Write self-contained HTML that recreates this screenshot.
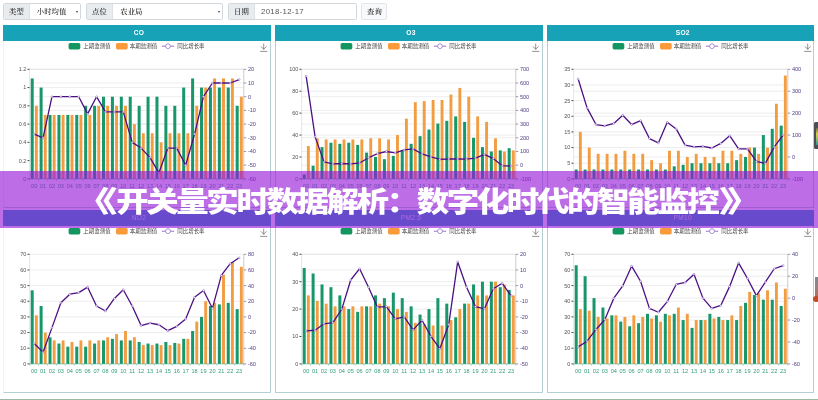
<!DOCTYPE html>
<html lang="zh-CN">
<head>
<meta charset="utf-8">
<title>开关量实时数据解析：数字化时代的智能监控</title>
<style>
html,body{margin:0;padding:0;}
body{width:818px;height:400px;position:relative;overflow:hidden;background:#fff;font-family:"Liberation Sans","Noto Sans CJK SC",sans-serif;}
.toolbar{position:absolute;left:0;top:0;width:818px;height:24px;}
.grp{position:absolute;top:3.2px;height:17.3px;box-sizing:border-box;border:0.6px solid #d3d8dd;border-radius:1.8px;background:#fff;overflow:hidden;}
.grp .lab{position:absolute;left:0;top:0;bottom:0;background:#e9ecef;border-right:0.5px solid #dde1e5;}
.t{position:absolute;font-family:"Liberation Serif","Noto Serif CJK SC",serif;font-size:7.4px;line-height:16.4px;color:#222;font-weight:500;top:0;white-space:nowrap;}
.t.num{font-family:"Liberation Sans","Noto Sans CJK SC",sans-serif;font-size:7.8px;color:#555;letter-spacing:0.3px;}
.arrow{position:absolute;top:7px;width:0;height:0;border-left:1.3px solid transparent;border-right:1.3px solid transparent;border-top:2px solid #333;}
.btn{position:absolute;left:360.5px;top:3.2px;width:26.8px;height:17.3px;box-sizing:border-box;border:0.6px solid #e2e6ea;border-radius:1.8px;background:#f8f9fa;}
.panel{position:absolute;width:267.4px;height:182.6px;box-sizing:border-box;background:#fff;}
.panel .bd{position:absolute;left:0;top:0;right:0;bottom:0;border:0.6px solid #b4cfd1;box-sizing:border-box;}
.panel.r1 .hd{font-weight:normal;color:rgba(255,255,255,0.8);}
.panel.c0 .bd{border-left-color:#eef5f6;}
.panel .hd{position:absolute;left:0;top:0;width:100%;height:15.4px;background:#17a2b8;color:#fff;text-align:center;font-size:6.6px;line-height:15.6px;font-weight:bold;letter-spacing:0.3px;box-sizing:border-box;padding-left:4px;}
.panel svg{position:absolute;left:0;top:0;}
svg text{font-family:"Liberation Sans","Noto Sans CJK SC",sans-serif;}
.lg{font-size:5.5px;fill:#444;}
.ll{font-size:5.5px;fill:#555;text-anchor:end;}
.rl{font-size:5.6px;fill:#58408a;text-anchor:start;}
.xl{font-size:5.6px;fill:#2f9e7d;text-anchor:middle;}
.gl{stroke:#dedede;stroke-width:0.55;}
.tk{stroke:#222;stroke-width:0.85;}
.tkr{stroke:#6a6480;stroke-width:0.7;}
.axr{stroke:#b4b4b8;stroke-width:0.7;}
.axl{stroke:#d4d4d4;stroke-width:0.6;}
.tkx{stroke:#2f9e7d;stroke-width:0.4;}
.ax{stroke:#2f9e7d;stroke-width:0.5;}
.banner{position:absolute;left:0;top:171px;width:818px;height:57px;background:rgba(151,24,215,0.63);}
.banner .tt{position:absolute;left:0;top:2.0px;width:818px;height:57px;line-height:57px;color:#fff;font-family:"Liberation Sans","Noto Sans CJK SC",sans-serif;font-weight:900;font-size:30px;white-space:nowrap;}
.banner .q{position:absolute;transform-origin:0 50%;transform:scale(1.52,0.97);top:0.3px;}
.banner .m{position:absolute;font-size:32.5px;letter-spacing:-2.45px;transform-origin:0 50%;transform:scaleY(0.875);top:1.3px;}
.foot{position:absolute;left:0;top:398.7px;width:818px;height:2px;background:#9db8a6;}
.w1{position:absolute;left:814px;top:121.5px;width:6px;height:27.2px;background:#4a4f57;border-radius:1.5px 0 0 1.5px;overflow:hidden;}
.w1 i{position:absolute;left:1.6px;top:6px;width:5px;height:17px;background:linear-gradient(#6a6a48,#d6cf45 35%,#9fbf60 60%,#3a9a8c 95%);}
.w2{position:absolute;left:815px;top:277px;width:3px;height:21px;background:linear-gradient(#7f8890,#9a8080 50%,#b56a55);}
.w2 i{position:absolute;left:-2px;top:19.4px;width:6px;height:6px;border-radius:50%;background:#c24a25;}
</style>
</head>
<body>
<div class="toolbar">
  <div class="grp" style="left:3.2px;width:77.8px;"><div class="lab" style="width:25.2px;"></div><span class="t" style="left:4.8px;">类型</span><span class="t" style="left:32.6px;">小时均值</span><span class="arrow" style="left:71.6px;"></span></div>
  <div class="grp" style="left:85.5px;width:137.8px;"><div class="lab" style="width:25.8px;"></div><span class="t" style="left:5.6px;">点位</span><span class="t" style="left:33.8px;">农业局</span><span class="arrow" style="left:131.9px;"></span></div>
  <div class="grp" style="left:227.5px;width:129px;"><div class="lab" style="width:25.8px;"></div><span class="t" style="left:5.6px;">日期</span><span class="t num" style="left:32.6px;">2018-12-17</span></div>
  <div class="btn"><span class="t" style="left:5.6px;top:-0.6px;">查询</span></div>
</div>

<div class="panel c0 r0" style="left:3.2px;top:25.2px;">
<div class="bd"></div>
<svg class="chart" width="267.4" height="182.6" viewBox="0 0 267.4 182.6">
<g class="legend">
<rect x="65.6" y="18" width="11.7" height="6.4" rx="1.6" fill="#13965f"/>
<text x="80.3" y="23.1" class="lg">上期监测值</text>
<rect x="113" y="18" width="11.7" height="6.4" rx="1.6" fill="#fb9a38"/>
<text x="126.8" y="23.1" class="lg">本期监测值</text>
<line x1="158.8" y1="21.2" x2="171.3" y2="21.2" stroke="#6a3aa6" stroke-width="0.7"/>
<circle cx="165" cy="21.2" r="2.4" fill="#fff" stroke="#7a4db5" stroke-width="0.6"/>
<text x="174.2" y="23.1" class="lg">同比增长率</text>
</g>
<g stroke="#666" stroke-width="0.7" fill="none" stroke-linecap="round" stroke-linejoin="round"><path d="M260.7 19 v5.2 M258.1 21.6 l2.6 2.6 l2.6 -2.6 M257.5 26.4 h6.4"/></g>
<line x1="24.5" y1="153.9" x2="26.7" y2="153.9" class="tk"/>
<text x="23.3" y="155.8" class="ll">0</text>
<line x1="26.7" y1="135.63" x2="240.6" y2="135.63" class="gl"/>
<line x1="24.5" y1="135.63" x2="26.7" y2="135.63" class="tk"/>
<text x="23.3" y="137.53" class="ll">0.2</text>
<line x1="26.7" y1="117.37" x2="240.6" y2="117.37" class="gl"/>
<line x1="24.5" y1="117.37" x2="26.7" y2="117.37" class="tk"/>
<text x="23.3" y="119.27" class="ll">0.4</text>
<line x1="26.7" y1="99.1" x2="240.6" y2="99.1" class="gl"/>
<line x1="24.5" y1="99.1" x2="26.7" y2="99.1" class="tk"/>
<text x="23.3" y="101" class="ll">0.6</text>
<line x1="26.7" y1="80.83" x2="240.6" y2="80.83" class="gl"/>
<line x1="24.5" y1="80.83" x2="26.7" y2="80.83" class="tk"/>
<text x="23.3" y="82.73" class="ll">0.8</text>
<line x1="26.7" y1="62.57" x2="240.6" y2="62.57" class="gl"/>
<line x1="24.5" y1="62.57" x2="26.7" y2="62.57" class="tk"/>
<text x="23.3" y="64.47" class="ll">1</text>
<line x1="26.7" y1="44.3" x2="240.6" y2="44.3" class="gl"/>
<line x1="24.5" y1="44.3" x2="26.7" y2="44.3" class="tk"/>
<text x="23.3" y="46.2" class="ll">1.2</text>
<line x1="240.8" y1="153.9" x2="243.2" y2="153.9" class="tkr"/>
<text x="244.9" y="155.8" class="rl">-60</text>
<line x1="26.7" y1="140.2" x2="240.6" y2="140.2" class="gl"/>
<line x1="240.8" y1="140.2" x2="243.2" y2="140.2" class="tkr"/>
<text x="244.9" y="142.1" class="rl">-50</text>
<line x1="26.7" y1="126.5" x2="240.6" y2="126.5" class="gl"/>
<line x1="240.8" y1="126.5" x2="243.2" y2="126.5" class="tkr"/>
<text x="244.9" y="128.4" class="rl">-40</text>
<line x1="26.7" y1="112.8" x2="240.6" y2="112.8" class="gl"/>
<line x1="240.8" y1="112.8" x2="243.2" y2="112.8" class="tkr"/>
<text x="244.9" y="114.7" class="rl">-30</text>
<line x1="26.7" y1="99.1" x2="240.6" y2="99.1" class="gl"/>
<line x1="240.8" y1="99.1" x2="243.2" y2="99.1" class="tkr"/>
<text x="244.9" y="101" class="rl">-20</text>
<line x1="26.7" y1="85.4" x2="240.6" y2="85.4" class="gl"/>
<line x1="240.8" y1="85.4" x2="243.2" y2="85.4" class="tkr"/>
<text x="244.9" y="87.3" class="rl">-10</text>
<line x1="26.7" y1="71.7" x2="240.6" y2="71.7" class="gl"/>
<line x1="240.8" y1="71.7" x2="243.2" y2="71.7" class="tkr"/>
<text x="244.9" y="73.6" class="rl">0</text>
<line x1="26.7" y1="58" x2="240.6" y2="58" class="gl"/>
<line x1="240.8" y1="58" x2="243.2" y2="58" class="tkr"/>
<text x="244.9" y="59.9" class="rl">10</text>
<line x1="26.7" y1="44.3" x2="240.6" y2="44.3" class="gl"/>
<line x1="240.8" y1="44.3" x2="243.2" y2="44.3" class="tkr"/>
<text x="244.9" y="46.2" class="rl">20</text>
<line x1="240.8" y1="44.3" x2="240.8" y2="153.9" class="axr"/>
<line x1="26.6" y1="44.3" x2="26.6" y2="153.9" class="axl"/>
<g fill="#17976a"><rect x="27.7" y="53.43" width="3" height="100.47"/><rect x="36.61" y="62.57" width="3" height="91.33"/><rect x="45.52" y="89.97" width="3" height="63.93"/><rect x="54.44" y="89.97" width="3" height="63.93"/><rect x="63.35" y="89.97" width="3" height="63.93"/><rect x="72.26" y="89.97" width="3" height="63.93"/><rect x="81.17" y="80.83" width="3" height="73.07"/><rect x="90.09" y="80.83" width="3" height="73.07"/><rect x="99" y="71.7" width="3" height="82.2"/><rect x="107.91" y="71.7" width="3" height="82.2"/><rect x="116.83" y="71.7" width="3" height="82.2"/><rect x="125.74" y="71.7" width="3" height="82.2"/><rect x="134.65" y="80.83" width="3" height="73.07"/><rect x="143.56" y="71.7" width="3" height="82.2"/><rect x="152.47" y="71.7" width="3" height="82.2"/><rect x="161.39" y="80.83" width="3" height="73.07"/><rect x="170.3" y="80.83" width="3" height="73.07"/><rect x="179.21" y="62.57" width="3" height="91.33"/><rect x="188.12" y="53.43" width="3" height="100.47"/><rect x="197.04" y="62.57" width="3" height="91.33"/><rect x="205.95" y="62.57" width="3" height="91.33"/><rect x="214.86" y="62.57" width="3" height="91.33"/><rect x="223.77" y="62.57" width="3" height="91.33"/><rect x="232.69" y="80.83" width="3" height="73.07"/></g>
<g fill="#f29d42"><rect x="31.9" y="80.83" width="2.9" height="73.07"/><rect x="40.81" y="89.97" width="2.9" height="63.93"/><rect x="49.73" y="89.97" width="2.9" height="63.93"/><rect x="58.64" y="89.97" width="2.9" height="63.93"/><rect x="67.55" y="89.97" width="2.9" height="63.93"/><rect x="76.46" y="89.97" width="2.9" height="63.93"/><rect x="85.38" y="89.97" width="2.9" height="63.93"/><rect x="94.29" y="80.83" width="2.9" height="73.07"/><rect x="103.2" y="80.83" width="2.9" height="73.07"/><rect x="112.11" y="80.83" width="2.9" height="73.07"/><rect x="121.03" y="80.83" width="2.9" height="73.07"/><rect x="129.94" y="99.1" width="2.9" height="54.8"/><rect x="138.85" y="108.23" width="2.9" height="45.67"/><rect x="147.76" y="108.23" width="2.9" height="45.67"/><rect x="156.67" y="117.37" width="2.9" height="36.53"/><rect x="165.59" y="108.23" width="2.9" height="45.67"/><rect x="174.5" y="108.23" width="2.9" height="45.67"/><rect x="183.41" y="108.23" width="2.9" height="45.67"/><rect x="192.32" y="80.83" width="2.9" height="73.07"/><rect x="201.24" y="62.57" width="2.9" height="91.33"/><rect x="210.15" y="53.43" width="2.9" height="100.47"/><rect x="219.06" y="53.43" width="2.9" height="100.47"/><rect x="227.97" y="53.43" width="2.9" height="100.47"/><rect x="236.89" y="71.7" width="2.9" height="82.2"/></g>
<line x1="26.7" y1="153.9" x2="240.6" y2="153.9" class="ax"/>
<line x1="26.7" y1="153.9" x2="26.7" y2="155.7" class="tkx"/>
<line x1="35.61" y1="153.9" x2="35.61" y2="155.7" class="tkx"/>
<line x1="44.52" y1="153.9" x2="44.52" y2="155.7" class="tkx"/>
<line x1="53.44" y1="153.9" x2="53.44" y2="155.7" class="tkx"/>
<line x1="62.35" y1="153.9" x2="62.35" y2="155.7" class="tkx"/>
<line x1="71.26" y1="153.9" x2="71.26" y2="155.7" class="tkx"/>
<line x1="80.17" y1="153.9" x2="80.17" y2="155.7" class="tkx"/>
<line x1="89.09" y1="153.9" x2="89.09" y2="155.7" class="tkx"/>
<line x1="98" y1="153.9" x2="98" y2="155.7" class="tkx"/>
<line x1="106.91" y1="153.9" x2="106.91" y2="155.7" class="tkx"/>
<line x1="115.83" y1="153.9" x2="115.83" y2="155.7" class="tkx"/>
<line x1="124.74" y1="153.9" x2="124.74" y2="155.7" class="tkx"/>
<line x1="133.65" y1="153.9" x2="133.65" y2="155.7" class="tkx"/>
<line x1="142.56" y1="153.9" x2="142.56" y2="155.7" class="tkx"/>
<line x1="151.47" y1="153.9" x2="151.47" y2="155.7" class="tkx"/>
<line x1="160.39" y1="153.9" x2="160.39" y2="155.7" class="tkx"/>
<line x1="169.3" y1="153.9" x2="169.3" y2="155.7" class="tkx"/>
<line x1="178.21" y1="153.9" x2="178.21" y2="155.7" class="tkx"/>
<line x1="187.12" y1="153.9" x2="187.12" y2="155.7" class="tkx"/>
<line x1="196.04" y1="153.9" x2="196.04" y2="155.7" class="tkx"/>
<line x1="204.95" y1="153.9" x2="204.95" y2="155.7" class="tkx"/>
<line x1="213.86" y1="153.9" x2="213.86" y2="155.7" class="tkx"/>
<line x1="222.77" y1="153.9" x2="222.77" y2="155.7" class="tkx"/>
<line x1="231.69" y1="153.9" x2="231.69" y2="155.7" class="tkx"/>
<line x1="240.6" y1="153.9" x2="240.6" y2="155.7" class="tkx"/>
<text x="31.16" y="162.6" class="xl">00</text>
<text x="40.07" y="162.6" class="xl">01</text>
<text x="48.98" y="162.6" class="xl">02</text>
<text x="57.89" y="162.6" class="xl">03</text>
<text x="66.81" y="162.6" class="xl">04</text>
<text x="75.72" y="162.6" class="xl">05</text>
<text x="84.63" y="162.6" class="xl">06</text>
<text x="93.54" y="162.6" class="xl">07</text>
<text x="102.46" y="162.6" class="xl">08</text>
<text x="111.37" y="162.6" class="xl">09</text>
<text x="120.28" y="162.6" class="xl">10</text>
<text x="129.19" y="162.6" class="xl">11</text>
<text x="138.11" y="162.6" class="xl">12</text>
<text x="147.02" y="162.6" class="xl">13</text>
<text x="155.93" y="162.6" class="xl">14</text>
<text x="164.84" y="162.6" class="xl">15</text>
<text x="173.76" y="162.6" class="xl">16</text>
<text x="182.67" y="162.6" class="xl">17</text>
<text x="191.58" y="162.6" class="xl">18</text>
<text x="200.49" y="162.6" class="xl">19</text>
<text x="209.41" y="162.6" class="xl">20</text>
<text x="218.32" y="162.6" class="xl">21</text>
<text x="227.23" y="162.6" class="xl">22</text>
<text x="236.14" y="162.6" class="xl">23</text>
<polyline fill="none" stroke="#4b1082" stroke-width="1.3" stroke-linejoin="round" points="31.16,109.06 40.07,112.8 48.98,71.7 57.89,71.7 66.81,71.7 75.72,71.7 84.63,88.83 93.54,71.7 102.46,86.92 111.37,86.92 120.28,86.92 129.19,117.37 138.11,123.08 147.02,132.59 155.93,147.81 164.84,123.08 173.76,123.08 182.67,140.2 191.58,109.06 200.49,71.7 209.41,58 218.32,58 227.23,58 236.14,54.58"/>
<g fill="#fff" stroke="#8a5fc0" stroke-width="0.5"><circle cx="31.16" cy="109.06" r="0.95"/><circle cx="40.07" cy="112.8" r="0.95"/><circle cx="48.98" cy="71.7" r="0.95"/><circle cx="57.89" cy="71.7" r="0.95"/><circle cx="66.81" cy="71.7" r="0.95"/><circle cx="75.72" cy="71.7" r="0.95"/><circle cx="84.63" cy="88.83" r="0.95"/><circle cx="93.54" cy="71.7" r="0.95"/><circle cx="102.46" cy="86.92" r="0.95"/><circle cx="111.37" cy="86.92" r="0.95"/><circle cx="120.28" cy="86.92" r="0.95"/><circle cx="129.19" cy="117.37" r="0.95"/><circle cx="138.11" cy="123.08" r="0.95"/><circle cx="147.02" cy="132.59" r="0.95"/><circle cx="155.93" cy="147.81" r="0.95"/><circle cx="164.84" cy="123.08" r="0.95"/><circle cx="173.76" cy="123.08" r="0.95"/><circle cx="182.67" cy="140.2" r="0.95"/><circle cx="191.58" cy="109.06" r="0.95"/><circle cx="200.49" cy="71.7" r="0.95"/><circle cx="209.41" cy="58" r="0.95"/><circle cx="218.32" cy="58" r="0.95"/><circle cx="227.23" cy="58" r="0.95"/><circle cx="236.14" cy="54.58" r="0.95"/></g>
</svg>
<div class="hd">CO</div>
</div>
<div class="panel c1 r0" style="left:275.3px;top:25.2px;">
<div class="bd"></div>
<svg class="chart" width="267.4" height="182.6" viewBox="0 0 267.4 182.6">
<g class="legend">
<rect x="65.6" y="18" width="11.7" height="6.4" rx="1.6" fill="#13965f"/>
<text x="80.3" y="23.1" class="lg">上期监测值</text>
<rect x="113" y="18" width="11.7" height="6.4" rx="1.6" fill="#fb9a38"/>
<text x="126.8" y="23.1" class="lg">本期监测值</text>
<line x1="158.8" y1="21.2" x2="171.3" y2="21.2" stroke="#6a3aa6" stroke-width="0.7"/>
<circle cx="165" cy="21.2" r="2.4" fill="#fff" stroke="#7a4db5" stroke-width="0.6"/>
<text x="174.2" y="23.1" class="lg">同比增长率</text>
</g>
<g stroke="#666" stroke-width="0.7" fill="none" stroke-linecap="round" stroke-linejoin="round"><path d="M260.7 19 v5.2 M258.1 21.6 l2.6 2.6 l2.6 -2.6 M257.5 26.4 h6.4"/></g>
<line x1="24.5" y1="153.9" x2="26.7" y2="153.9" class="tk"/>
<text x="23.3" y="155.8" class="ll">0</text>
<line x1="26.7" y1="131.98" x2="240.6" y2="131.98" class="gl"/>
<line x1="24.5" y1="131.98" x2="26.7" y2="131.98" class="tk"/>
<text x="23.3" y="133.88" class="ll">20</text>
<line x1="26.7" y1="110.06" x2="240.6" y2="110.06" class="gl"/>
<line x1="24.5" y1="110.06" x2="26.7" y2="110.06" class="tk"/>
<text x="23.3" y="111.96" class="ll">40</text>
<line x1="26.7" y1="88.14" x2="240.6" y2="88.14" class="gl"/>
<line x1="24.5" y1="88.14" x2="26.7" y2="88.14" class="tk"/>
<text x="23.3" y="90.04" class="ll">60</text>
<line x1="26.7" y1="66.22" x2="240.6" y2="66.22" class="gl"/>
<line x1="24.5" y1="66.22" x2="26.7" y2="66.22" class="tk"/>
<text x="23.3" y="68.12" class="ll">80</text>
<line x1="26.7" y1="44.3" x2="240.6" y2="44.3" class="gl"/>
<line x1="24.5" y1="44.3" x2="26.7" y2="44.3" class="tk"/>
<text x="23.3" y="46.2" class="ll">100</text>
<line x1="240.8" y1="153.9" x2="243.2" y2="153.9" class="tkr"/>
<text x="244.9" y="155.8" class="rl">-100</text>
<line x1="26.7" y1="140.2" x2="240.6" y2="140.2" class="gl"/>
<line x1="240.8" y1="140.2" x2="243.2" y2="140.2" class="tkr"/>
<text x="244.9" y="142.1" class="rl">0</text>
<line x1="26.7" y1="126.5" x2="240.6" y2="126.5" class="gl"/>
<line x1="240.8" y1="126.5" x2="243.2" y2="126.5" class="tkr"/>
<text x="244.9" y="128.4" class="rl">100</text>
<line x1="26.7" y1="112.8" x2="240.6" y2="112.8" class="gl"/>
<line x1="240.8" y1="112.8" x2="243.2" y2="112.8" class="tkr"/>
<text x="244.9" y="114.7" class="rl">200</text>
<line x1="26.7" y1="99.1" x2="240.6" y2="99.1" class="gl"/>
<line x1="240.8" y1="99.1" x2="243.2" y2="99.1" class="tkr"/>
<text x="244.9" y="101" class="rl">300</text>
<line x1="26.7" y1="85.4" x2="240.6" y2="85.4" class="gl"/>
<line x1="240.8" y1="85.4" x2="243.2" y2="85.4" class="tkr"/>
<text x="244.9" y="87.3" class="rl">400</text>
<line x1="26.7" y1="71.7" x2="240.6" y2="71.7" class="gl"/>
<line x1="240.8" y1="71.7" x2="243.2" y2="71.7" class="tkr"/>
<text x="244.9" y="73.6" class="rl">500</text>
<line x1="26.7" y1="58" x2="240.6" y2="58" class="gl"/>
<line x1="240.8" y1="58" x2="243.2" y2="58" class="tkr"/>
<text x="244.9" y="59.9" class="rl">600</text>
<line x1="26.7" y1="44.3" x2="240.6" y2="44.3" class="gl"/>
<line x1="240.8" y1="44.3" x2="243.2" y2="44.3" class="tkr"/>
<text x="244.9" y="46.2" class="rl">700</text>
<line x1="240.8" y1="44.3" x2="240.8" y2="153.9" class="axr"/>
<line x1="26.6" y1="44.3" x2="26.6" y2="153.9" class="axl"/>
<g fill="#17976a"><rect x="27.7" y="149.52" width="3" height="4.38"/><rect x="36.61" y="140.75" width="3" height="13.15"/><rect x="45.52" y="122.12" width="3" height="31.78"/><rect x="54.44" y="117.73" width="3" height="36.17"/><rect x="63.35" y="118.83" width="3" height="35.07"/><rect x="72.26" y="117.73" width="3" height="36.17"/><rect x="81.17" y="119.92" width="3" height="33.98"/><rect x="90.09" y="127.6" width="3" height="26.3"/><rect x="99" y="131.98" width="3" height="21.92"/><rect x="107.91" y="134.17" width="3" height="19.73"/><rect x="116.83" y="130.88" width="3" height="23.02"/><rect x="125.74" y="125.4" width="3" height="28.5"/><rect x="134.65" y="118.83" width="3" height="35.07"/><rect x="143.56" y="111.16" width="3" height="42.74"/><rect x="152.47" y="104.58" width="3" height="49.32"/><rect x="161.39" y="98.55" width="3" height="55.35"/><rect x="170.3" y="95.81" width="3" height="58.09"/><rect x="179.21" y="91.43" width="3" height="62.47"/><rect x="188.12" y="96.91" width="3" height="56.99"/><rect x="197.04" y="112.8" width="3" height="41.1"/><rect x="205.95" y="122.12" width="3" height="31.78"/><rect x="214.86" y="126.5" width="3" height="27.4"/><rect x="223.77" y="125.4" width="3" height="28.5"/><rect x="232.69" y="123.21" width="3" height="30.69"/></g>
<g fill="#f29d42"><rect x="31.9" y="121.02" width="2.9" height="32.88"/><rect x="40.81" y="113.35" width="2.9" height="40.55"/><rect x="49.73" y="114.44" width="2.9" height="39.46"/><rect x="58.64" y="114.44" width="2.9" height="39.46"/><rect x="67.55" y="114.44" width="2.9" height="39.46"/><rect x="76.46" y="114.44" width="2.9" height="39.46"/><rect x="85.38" y="114.44" width="2.9" height="39.46"/><rect x="94.29" y="113.35" width="2.9" height="40.55"/><rect x="103.2" y="113.35" width="2.9" height="40.55"/><rect x="112.11" y="114.44" width="2.9" height="39.46"/><rect x="121.03" y="110.06" width="2.9" height="43.84"/><rect x="129.94" y="93.62" width="2.9" height="60.28"/><rect x="138.85" y="77.18" width="2.9" height="76.72"/><rect x="147.76" y="76.08" width="2.9" height="77.82"/><rect x="156.67" y="74.99" width="2.9" height="78.91"/><rect x="165.59" y="74.99" width="2.9" height="78.91"/><rect x="174.5" y="69.51" width="2.9" height="84.39"/><rect x="183.41" y="62.93" width="2.9" height="90.97"/><rect x="192.32" y="71.7" width="2.9" height="82.2"/><rect x="201.24" y="91.43" width="2.9" height="62.47"/><rect x="210.15" y="96.91" width="2.9" height="56.99"/><rect x="219.06" y="113.35" width="2.9" height="40.55"/><rect x="227.97" y="126.5" width="2.9" height="27.4"/><rect x="236.89" y="125.4" width="2.9" height="28.5"/></g>
<line x1="26.7" y1="153.9" x2="240.6" y2="153.9" class="ax"/>
<line x1="26.7" y1="153.9" x2="26.7" y2="155.7" class="tkx"/>
<line x1="35.61" y1="153.9" x2="35.61" y2="155.7" class="tkx"/>
<line x1="44.52" y1="153.9" x2="44.52" y2="155.7" class="tkx"/>
<line x1="53.44" y1="153.9" x2="53.44" y2="155.7" class="tkx"/>
<line x1="62.35" y1="153.9" x2="62.35" y2="155.7" class="tkx"/>
<line x1="71.26" y1="153.9" x2="71.26" y2="155.7" class="tkx"/>
<line x1="80.17" y1="153.9" x2="80.17" y2="155.7" class="tkx"/>
<line x1="89.09" y1="153.9" x2="89.09" y2="155.7" class="tkx"/>
<line x1="98" y1="153.9" x2="98" y2="155.7" class="tkx"/>
<line x1="106.91" y1="153.9" x2="106.91" y2="155.7" class="tkx"/>
<line x1="115.83" y1="153.9" x2="115.83" y2="155.7" class="tkx"/>
<line x1="124.74" y1="153.9" x2="124.74" y2="155.7" class="tkx"/>
<line x1="133.65" y1="153.9" x2="133.65" y2="155.7" class="tkx"/>
<line x1="142.56" y1="153.9" x2="142.56" y2="155.7" class="tkx"/>
<line x1="151.47" y1="153.9" x2="151.47" y2="155.7" class="tkx"/>
<line x1="160.39" y1="153.9" x2="160.39" y2="155.7" class="tkx"/>
<line x1="169.3" y1="153.9" x2="169.3" y2="155.7" class="tkx"/>
<line x1="178.21" y1="153.9" x2="178.21" y2="155.7" class="tkx"/>
<line x1="187.12" y1="153.9" x2="187.12" y2="155.7" class="tkx"/>
<line x1="196.04" y1="153.9" x2="196.04" y2="155.7" class="tkx"/>
<line x1="204.95" y1="153.9" x2="204.95" y2="155.7" class="tkx"/>
<line x1="213.86" y1="153.9" x2="213.86" y2="155.7" class="tkx"/>
<line x1="222.77" y1="153.9" x2="222.77" y2="155.7" class="tkx"/>
<line x1="231.69" y1="153.9" x2="231.69" y2="155.7" class="tkx"/>
<line x1="240.6" y1="153.9" x2="240.6" y2="155.7" class="tkx"/>
<text x="31.16" y="162.6" class="xl">00</text>
<text x="40.07" y="162.6" class="xl">01</text>
<text x="48.98" y="162.6" class="xl">02</text>
<text x="57.89" y="162.6" class="xl">03</text>
<text x="66.81" y="162.6" class="xl">04</text>
<text x="75.72" y="162.6" class="xl">05</text>
<text x="84.63" y="162.6" class="xl">06</text>
<text x="93.54" y="162.6" class="xl">07</text>
<text x="102.46" y="162.6" class="xl">08</text>
<text x="111.37" y="162.6" class="xl">09</text>
<text x="120.28" y="162.6" class="xl">10</text>
<text x="129.19" y="162.6" class="xl">11</text>
<text x="138.11" y="162.6" class="xl">12</text>
<text x="147.02" y="162.6" class="xl">13</text>
<text x="155.93" y="162.6" class="xl">14</text>
<text x="164.84" y="162.6" class="xl">15</text>
<text x="173.76" y="162.6" class="xl">16</text>
<text x="182.67" y="162.6" class="xl">17</text>
<text x="191.58" y="162.6" class="xl">18</text>
<text x="200.49" y="162.6" class="xl">19</text>
<text x="209.41" y="162.6" class="xl">20</text>
<text x="218.32" y="162.6" class="xl">21</text>
<text x="227.23" y="162.6" class="xl">22</text>
<text x="236.14" y="162.6" class="xl">23</text>
<polyline fill="none" stroke="#4b1082" stroke-width="1.3" stroke-linejoin="round" points="31.16,51.15 40.07,111.66 48.98,136.89 57.89,138.95 66.81,138.49 75.72,138.95 84.63,137.99 93.54,132.78 102.46,128.56 111.37,126.5 120.28,127.8 129.19,124.92 138.11,123.93 147.02,128.96 155.93,131.98 164.84,134.37 173.76,134 182.67,133.95 191.58,134.14 200.49,133.08 209.41,129.33 218.32,133.62 227.23,140.73 236.14,141.18"/>
<g fill="#fff" stroke="#8a5fc0" stroke-width="0.5"><circle cx="31.16" cy="51.15" r="0.95"/><circle cx="40.07" cy="111.66" r="0.95"/><circle cx="48.98" cy="136.89" r="0.95"/><circle cx="57.89" cy="138.95" r="0.95"/><circle cx="66.81" cy="138.49" r="0.95"/><circle cx="75.72" cy="138.95" r="0.95"/><circle cx="84.63" cy="137.99" r="0.95"/><circle cx="93.54" cy="132.78" r="0.95"/><circle cx="102.46" cy="128.56" r="0.95"/><circle cx="111.37" cy="126.5" r="0.95"/><circle cx="120.28" cy="127.8" r="0.95"/><circle cx="129.19" cy="124.92" r="0.95"/><circle cx="138.11" cy="123.93" r="0.95"/><circle cx="147.02" cy="128.96" r="0.95"/><circle cx="155.93" cy="131.98" r="0.95"/><circle cx="164.84" cy="134.37" r="0.95"/><circle cx="173.76" cy="134" r="0.95"/><circle cx="182.67" cy="133.95" r="0.95"/><circle cx="191.58" cy="134.14" r="0.95"/><circle cx="200.49" cy="133.08" r="0.95"/><circle cx="209.41" cy="129.33" r="0.95"/><circle cx="218.32" cy="133.62" r="0.95"/><circle cx="227.23" cy="140.73" r="0.95"/><circle cx="236.14" cy="141.18" r="0.95"/></g>
</svg>
<div class="hd">O3</div>
</div>
<div class="panel c2 r0" style="left:547.1px;top:25.2px;">
<div class="bd"></div>
<svg class="chart" width="267.4" height="182.6" viewBox="0 0 267.4 182.6">
<g class="legend">
<rect x="65.6" y="18" width="11.7" height="6.4" rx="1.6" fill="#13965f"/>
<text x="80.3" y="23.1" class="lg">上期监测值</text>
<rect x="113" y="18" width="11.7" height="6.4" rx="1.6" fill="#fb9a38"/>
<text x="126.8" y="23.1" class="lg">本期监测值</text>
<line x1="158.8" y1="21.2" x2="171.3" y2="21.2" stroke="#6a3aa6" stroke-width="0.7"/>
<circle cx="165" cy="21.2" r="2.4" fill="#fff" stroke="#7a4db5" stroke-width="0.6"/>
<text x="174.2" y="23.1" class="lg">同比增长率</text>
</g>
<g stroke="#666" stroke-width="0.7" fill="none" stroke-linecap="round" stroke-linejoin="round"><path d="M260.7 19 v5.2 M258.1 21.6 l2.6 2.6 l2.6 -2.6 M257.5 26.4 h6.4"/></g>
<line x1="24.5" y1="153.9" x2="26.7" y2="153.9" class="tk"/>
<text x="23.3" y="155.8" class="ll">0</text>
<line x1="26.7" y1="138.24" x2="240.6" y2="138.24" class="gl"/>
<line x1="24.5" y1="138.24" x2="26.7" y2="138.24" class="tk"/>
<text x="23.3" y="140.14" class="ll">5</text>
<line x1="26.7" y1="122.59" x2="240.6" y2="122.59" class="gl"/>
<line x1="24.5" y1="122.59" x2="26.7" y2="122.59" class="tk"/>
<text x="23.3" y="124.49" class="ll">10</text>
<line x1="26.7" y1="106.93" x2="240.6" y2="106.93" class="gl"/>
<line x1="24.5" y1="106.93" x2="26.7" y2="106.93" class="tk"/>
<text x="23.3" y="108.83" class="ll">15</text>
<line x1="26.7" y1="91.27" x2="240.6" y2="91.27" class="gl"/>
<line x1="24.5" y1="91.27" x2="26.7" y2="91.27" class="tk"/>
<text x="23.3" y="93.17" class="ll">20</text>
<line x1="26.7" y1="75.61" x2="240.6" y2="75.61" class="gl"/>
<line x1="24.5" y1="75.61" x2="26.7" y2="75.61" class="tk"/>
<text x="23.3" y="77.51" class="ll">25</text>
<line x1="26.7" y1="59.96" x2="240.6" y2="59.96" class="gl"/>
<line x1="24.5" y1="59.96" x2="26.7" y2="59.96" class="tk"/>
<text x="23.3" y="61.86" class="ll">30</text>
<line x1="26.7" y1="44.3" x2="240.6" y2="44.3" class="gl"/>
<line x1="24.5" y1="44.3" x2="26.7" y2="44.3" class="tk"/>
<text x="23.3" y="46.2" class="ll">35</text>
<line x1="240.8" y1="153.9" x2="243.2" y2="153.9" class="tkr"/>
<text x="244.9" y="155.8" class="rl">-100</text>
<line x1="26.7" y1="131.98" x2="240.6" y2="131.98" class="gl"/>
<line x1="240.8" y1="131.98" x2="243.2" y2="131.98" class="tkr"/>
<text x="244.9" y="133.88" class="rl">0</text>
<line x1="26.7" y1="110.06" x2="240.6" y2="110.06" class="gl"/>
<line x1="240.8" y1="110.06" x2="243.2" y2="110.06" class="tkr"/>
<text x="244.9" y="111.96" class="rl">100</text>
<line x1="26.7" y1="88.14" x2="240.6" y2="88.14" class="gl"/>
<line x1="240.8" y1="88.14" x2="243.2" y2="88.14" class="tkr"/>
<text x="244.9" y="90.04" class="rl">200</text>
<line x1="26.7" y1="66.22" x2="240.6" y2="66.22" class="gl"/>
<line x1="240.8" y1="66.22" x2="243.2" y2="66.22" class="tkr"/>
<text x="244.9" y="68.12" class="rl">300</text>
<line x1="26.7" y1="44.3" x2="240.6" y2="44.3" class="gl"/>
<line x1="240.8" y1="44.3" x2="243.2" y2="44.3" class="tkr"/>
<text x="244.9" y="46.2" class="rl">400</text>
<line x1="240.8" y1="44.3" x2="240.8" y2="153.9" class="axr"/>
<line x1="26.6" y1="44.3" x2="26.6" y2="153.9" class="axl"/>
<g fill="#17976a"><rect x="27.7" y="144.51" width="3" height="9.39"/><rect x="36.61" y="144.51" width="3" height="9.39"/><rect x="45.52" y="144.51" width="3" height="9.39"/><rect x="54.44" y="144.51" width="3" height="9.39"/><rect x="63.35" y="144.51" width="3" height="9.39"/><rect x="72.26" y="144.51" width="3" height="9.39"/><rect x="81.17" y="144.51" width="3" height="9.39"/><rect x="90.09" y="144.51" width="3" height="9.39"/><rect x="99" y="144.51" width="3" height="9.39"/><rect x="107.91" y="144.51" width="3" height="9.39"/><rect x="116.83" y="144.51" width="3" height="9.39"/><rect x="125.74" y="141.37" width="3" height="12.53"/><rect x="134.65" y="139.81" width="3" height="14.09"/><rect x="143.56" y="138.24" width="3" height="15.66"/><rect x="152.47" y="138.24" width="3" height="15.66"/><rect x="161.39" y="138.24" width="3" height="15.66"/><rect x="170.3" y="138.24" width="3" height="15.66"/><rect x="179.21" y="138.24" width="3" height="15.66"/><rect x="188.12" y="135.11" width="3" height="18.79"/><rect x="197.04" y="131.98" width="3" height="21.92"/><rect x="205.95" y="122.59" width="3" height="31.31"/><rect x="214.86" y="110.06" width="3" height="43.84"/><rect x="223.77" y="103.8" width="3" height="50.1"/><rect x="232.69" y="100.67" width="3" height="53.23"/></g>
<g fill="#f29d42"><rect x="31.9" y="106.93" width="2.9" height="46.97"/><rect x="40.81" y="122.59" width="2.9" height="31.31"/><rect x="49.73" y="128.85" width="2.9" height="25.05"/><rect x="58.64" y="128.85" width="2.9" height="25.05"/><rect x="67.55" y="128.85" width="2.9" height="25.05"/><rect x="76.46" y="125.72" width="2.9" height="28.18"/><rect x="85.38" y="128.85" width="2.9" height="25.05"/><rect x="94.29" y="128.85" width="2.9" height="25.05"/><rect x="103.2" y="135.11" width="2.9" height="18.79"/><rect x="112.11" y="138.24" width="2.9" height="15.66"/><rect x="121.03" y="125.72" width="2.9" height="28.18"/><rect x="129.94" y="125.72" width="2.9" height="28.18"/><rect x="138.85" y="131.98" width="2.9" height="21.92"/><rect x="147.76" y="128.85" width="2.9" height="25.05"/><rect x="156.67" y="131.98" width="2.9" height="21.92"/><rect x="165.59" y="131.98" width="2.9" height="21.92"/><rect x="174.5" y="125.72" width="2.9" height="28.18"/><rect x="183.41" y="125.72" width="2.9" height="28.18"/><rect x="192.32" y="128.85" width="2.9" height="25.05"/><rect x="201.24" y="122.59" width="2.9" height="31.31"/><rect x="210.15" y="128.85" width="2.9" height="25.05"/><rect x="219.06" y="122.59" width="2.9" height="31.31"/><rect x="227.97" y="78.75" width="2.9" height="75.15"/><rect x="236.89" y="50.56" width="2.9" height="103.34"/></g>
<line x1="26.7" y1="153.9" x2="240.6" y2="153.9" class="ax"/>
<line x1="26.7" y1="153.9" x2="26.7" y2="155.7" class="tkx"/>
<line x1="35.61" y1="153.9" x2="35.61" y2="155.7" class="tkx"/>
<line x1="44.52" y1="153.9" x2="44.52" y2="155.7" class="tkx"/>
<line x1="53.44" y1="153.9" x2="53.44" y2="155.7" class="tkx"/>
<line x1="62.35" y1="153.9" x2="62.35" y2="155.7" class="tkx"/>
<line x1="71.26" y1="153.9" x2="71.26" y2="155.7" class="tkx"/>
<line x1="80.17" y1="153.9" x2="80.17" y2="155.7" class="tkx"/>
<line x1="89.09" y1="153.9" x2="89.09" y2="155.7" class="tkx"/>
<line x1="98" y1="153.9" x2="98" y2="155.7" class="tkx"/>
<line x1="106.91" y1="153.9" x2="106.91" y2="155.7" class="tkx"/>
<line x1="115.83" y1="153.9" x2="115.83" y2="155.7" class="tkx"/>
<line x1="124.74" y1="153.9" x2="124.74" y2="155.7" class="tkx"/>
<line x1="133.65" y1="153.9" x2="133.65" y2="155.7" class="tkx"/>
<line x1="142.56" y1="153.9" x2="142.56" y2="155.7" class="tkx"/>
<line x1="151.47" y1="153.9" x2="151.47" y2="155.7" class="tkx"/>
<line x1="160.39" y1="153.9" x2="160.39" y2="155.7" class="tkx"/>
<line x1="169.3" y1="153.9" x2="169.3" y2="155.7" class="tkx"/>
<line x1="178.21" y1="153.9" x2="178.21" y2="155.7" class="tkx"/>
<line x1="187.12" y1="153.9" x2="187.12" y2="155.7" class="tkx"/>
<line x1="196.04" y1="153.9" x2="196.04" y2="155.7" class="tkx"/>
<line x1="204.95" y1="153.9" x2="204.95" y2="155.7" class="tkx"/>
<line x1="213.86" y1="153.9" x2="213.86" y2="155.7" class="tkx"/>
<line x1="222.77" y1="153.9" x2="222.77" y2="155.7" class="tkx"/>
<line x1="231.69" y1="153.9" x2="231.69" y2="155.7" class="tkx"/>
<line x1="240.6" y1="153.9" x2="240.6" y2="155.7" class="tkx"/>
<text x="31.16" y="162.6" class="xl">00</text>
<text x="40.07" y="162.6" class="xl">01</text>
<text x="48.98" y="162.6" class="xl">02</text>
<text x="57.89" y="162.6" class="xl">03</text>
<text x="66.81" y="162.6" class="xl">04</text>
<text x="75.72" y="162.6" class="xl">05</text>
<text x="84.63" y="162.6" class="xl">06</text>
<text x="93.54" y="162.6" class="xl">07</text>
<text x="102.46" y="162.6" class="xl">08</text>
<text x="111.37" y="162.6" class="xl">09</text>
<text x="120.28" y="162.6" class="xl">10</text>
<text x="129.19" y="162.6" class="xl">11</text>
<text x="138.11" y="162.6" class="xl">12</text>
<text x="147.02" y="162.6" class="xl">13</text>
<text x="155.93" y="162.6" class="xl">14</text>
<text x="164.84" y="162.6" class="xl">15</text>
<text x="173.76" y="162.6" class="xl">16</text>
<text x="182.67" y="162.6" class="xl">17</text>
<text x="191.58" y="162.6" class="xl">18</text>
<text x="200.49" y="162.6" class="xl">19</text>
<text x="209.41" y="162.6" class="xl">20</text>
<text x="218.32" y="162.6" class="xl">21</text>
<text x="227.23" y="162.6" class="xl">22</text>
<text x="236.14" y="162.6" class="xl">23</text>
<polyline fill="none" stroke="#4b1082" stroke-width="1.3" stroke-linejoin="round" points="31.16,53.94 40.07,82.88 48.98,99.54 57.89,100.85 66.81,98.44 75.72,90.33 84.63,99.54 93.54,95.59 102.46,113.57 111.37,117.95 120.28,97.35 129.19,103.92 138.11,120.14 147.02,121.9 155.93,121.46 164.84,122.99 173.76,118.39 182.67,110.72 191.58,123.87 200.49,123.87 209.41,136.36 218.32,138.34 227.23,121.9 236.14,110.06"/>
<g fill="#fff" stroke="#8a5fc0" stroke-width="0.5"><circle cx="31.16" cy="53.94" r="0.95"/><circle cx="40.07" cy="82.88" r="0.95"/><circle cx="48.98" cy="99.54" r="0.95"/><circle cx="57.89" cy="100.85" r="0.95"/><circle cx="66.81" cy="98.44" r="0.95"/><circle cx="75.72" cy="90.33" r="0.95"/><circle cx="84.63" cy="99.54" r="0.95"/><circle cx="93.54" cy="95.59" r="0.95"/><circle cx="102.46" cy="113.57" r="0.95"/><circle cx="111.37" cy="117.95" r="0.95"/><circle cx="120.28" cy="97.35" r="0.95"/><circle cx="129.19" cy="103.92" r="0.95"/><circle cx="138.11" cy="120.14" r="0.95"/><circle cx="147.02" cy="121.9" r="0.95"/><circle cx="155.93" cy="121.46" r="0.95"/><circle cx="164.84" cy="122.99" r="0.95"/><circle cx="173.76" cy="118.39" r="0.95"/><circle cx="182.67" cy="110.72" r="0.95"/><circle cx="191.58" cy="123.87" r="0.95"/><circle cx="200.49" cy="123.87" r="0.95"/><circle cx="209.41" cy="136.36" r="0.95"/><circle cx="218.32" cy="138.34" r="0.95"/><circle cx="227.23" cy="121.9" r="0.95"/><circle cx="236.14" cy="110.06" r="0.95"/></g>
</svg>
<div class="hd">SO2</div>
</div>
<div class="panel c0 r1" style="left:3.2px;top:210.4px;">
<div class="bd"></div>
<svg class="chart" width="267.4" height="182.6" viewBox="0 0 267.4 182.6">
<g class="legend">
<rect x="65.6" y="18" width="11.7" height="6.4" rx="1.6" fill="#13965f"/>
<text x="80.3" y="23.1" class="lg">上期监测值</text>
<rect x="113" y="18" width="11.7" height="6.4" rx="1.6" fill="#fb9a38"/>
<text x="126.8" y="23.1" class="lg">本期监测值</text>
<line x1="158.8" y1="21.2" x2="171.3" y2="21.2" stroke="#6a3aa6" stroke-width="0.7"/>
<circle cx="165" cy="21.2" r="2.4" fill="#fff" stroke="#7a4db5" stroke-width="0.6"/>
<text x="174.2" y="23.1" class="lg">同比增长率</text>
</g>
<g stroke="#666" stroke-width="0.7" fill="none" stroke-linecap="round" stroke-linejoin="round"><path d="M260.7 19 v5.2 M258.1 21.6 l2.6 2.6 l2.6 -2.6 M257.5 26.4 h6.4"/></g>
<line x1="24.5" y1="153.9" x2="26.7" y2="153.9" class="tk"/>
<text x="23.3" y="155.8" class="ll">0</text>
<line x1="26.7" y1="138.24" x2="240.6" y2="138.24" class="gl"/>
<line x1="24.5" y1="138.24" x2="26.7" y2="138.24" class="tk"/>
<text x="23.3" y="140.14" class="ll">10</text>
<line x1="26.7" y1="122.59" x2="240.6" y2="122.59" class="gl"/>
<line x1="24.5" y1="122.59" x2="26.7" y2="122.59" class="tk"/>
<text x="23.3" y="124.49" class="ll">20</text>
<line x1="26.7" y1="106.93" x2="240.6" y2="106.93" class="gl"/>
<line x1="24.5" y1="106.93" x2="26.7" y2="106.93" class="tk"/>
<text x="23.3" y="108.83" class="ll">30</text>
<line x1="26.7" y1="91.27" x2="240.6" y2="91.27" class="gl"/>
<line x1="24.5" y1="91.27" x2="26.7" y2="91.27" class="tk"/>
<text x="23.3" y="93.17" class="ll">40</text>
<line x1="26.7" y1="75.61" x2="240.6" y2="75.61" class="gl"/>
<line x1="24.5" y1="75.61" x2="26.7" y2="75.61" class="tk"/>
<text x="23.3" y="77.51" class="ll">50</text>
<line x1="26.7" y1="59.96" x2="240.6" y2="59.96" class="gl"/>
<line x1="24.5" y1="59.96" x2="26.7" y2="59.96" class="tk"/>
<text x="23.3" y="61.86" class="ll">60</text>
<line x1="26.7" y1="44.3" x2="240.6" y2="44.3" class="gl"/>
<line x1="24.5" y1="44.3" x2="26.7" y2="44.3" class="tk"/>
<text x="23.3" y="46.2" class="ll">70</text>
<line x1="240.8" y1="153.9" x2="243.2" y2="153.9" class="tkr"/>
<text x="244.9" y="155.8" class="rl">-60</text>
<line x1="240.8" y1="138.24" x2="243.2" y2="138.24" class="tkr"/>
<text x="244.9" y="140.14" class="rl">-40</text>
<line x1="240.8" y1="122.59" x2="243.2" y2="122.59" class="tkr"/>
<text x="244.9" y="124.49" class="rl">-20</text>
<line x1="240.8" y1="106.93" x2="243.2" y2="106.93" class="tkr"/>
<text x="244.9" y="108.83" class="rl">0</text>
<line x1="240.8" y1="91.27" x2="243.2" y2="91.27" class="tkr"/>
<text x="244.9" y="93.17" class="rl">20</text>
<line x1="240.8" y1="75.61" x2="243.2" y2="75.61" class="tkr"/>
<text x="244.9" y="77.51" class="rl">40</text>
<line x1="240.8" y1="59.96" x2="243.2" y2="59.96" class="tkr"/>
<text x="244.9" y="61.86" class="rl">60</text>
<line x1="240.8" y1="44.3" x2="243.2" y2="44.3" class="tkr"/>
<text x="244.9" y="46.2" class="rl">80</text>
<line x1="240.8" y1="44.3" x2="240.8" y2="153.9" class="axr"/>
<line x1="26.6" y1="44.3" x2="26.6" y2="153.9" class="axl"/>
<g fill="#17976a"><rect x="27.7" y="80.31" width="3" height="73.59"/><rect x="36.61" y="95.97" width="3" height="57.93"/><rect x="45.52" y="127.28" width="3" height="26.62"/><rect x="54.44" y="133.55" width="3" height="20.35"/><rect x="63.35" y="136.68" width="3" height="17.22"/><rect x="72.26" y="136.68" width="3" height="17.22"/><rect x="81.17" y="136.68" width="3" height="17.22"/><rect x="90.09" y="133.55" width="3" height="20.35"/><rect x="99" y="130.41" width="3" height="23.49"/><rect x="107.91" y="128.85" width="3" height="25.05"/><rect x="116.83" y="130.41" width="3" height="23.49"/><rect x="125.74" y="130.41" width="3" height="23.49"/><rect x="134.65" y="131.98" width="3" height="21.92"/><rect x="143.56" y="133.55" width="3" height="20.35"/><rect x="152.47" y="133.55" width="3" height="20.35"/><rect x="161.39" y="131.98" width="3" height="21.92"/><rect x="170.3" y="132.92" width="3" height="20.98"/><rect x="179.21" y="128.85" width="3" height="25.05"/><rect x="188.12" y="121.02" width="3" height="32.88"/><rect x="197.04" y="106.93" width="3" height="46.97"/><rect x="205.95" y="95.97" width="3" height="57.93"/><rect x="214.86" y="94.4" width="3" height="59.5"/><rect x="223.77" y="92.84" width="3" height="61.06"/><rect x="232.69" y="99.1" width="3" height="54.8"/></g>
<g fill="#f29d42"><rect x="31.9" y="105.36" width="2.9" height="48.54"/><rect x="40.81" y="122.59" width="2.9" height="31.31"/><rect x="49.73" y="130.41" width="2.9" height="23.49"/><rect x="58.64" y="130.41" width="2.9" height="23.49"/><rect x="67.55" y="131.98" width="2.9" height="21.92"/><rect x="76.46" y="130.41" width="2.9" height="23.49"/><rect x="85.38" y="130.41" width="2.9" height="23.49"/><rect x="94.29" y="130.41" width="2.9" height="23.49"/><rect x="103.2" y="127.28" width="2.9" height="26.62"/><rect x="112.11" y="124.15" width="2.9" height="29.75"/><rect x="121.03" y="121.02" width="2.9" height="32.88"/><rect x="129.94" y="127.28" width="2.9" height="26.62"/><rect x="138.85" y="135.11" width="2.9" height="18.79"/><rect x="147.76" y="135.11" width="2.9" height="18.79"/><rect x="156.67" y="135.11" width="2.9" height="18.79"/><rect x="165.59" y="135.11" width="2.9" height="18.79"/><rect x="174.5" y="133.55" width="2.9" height="20.35"/><rect x="183.41" y="128.85" width="2.9" height="25.05"/><rect x="192.32" y="111.63" width="2.9" height="42.27"/><rect x="201.24" y="91.27" width="2.9" height="62.63"/><rect x="210.15" y="92.84" width="2.9" height="61.06"/><rect x="219.06" y="64.65" width="2.9" height="89.25"/><rect x="227.97" y="52.13" width="2.9" height="101.77"/><rect x="236.89" y="56.83" width="2.9" height="97.07"/></g>
<line x1="26.7" y1="153.9" x2="240.6" y2="153.9" class="ax"/>
<line x1="26.7" y1="153.9" x2="26.7" y2="155.7" class="tkx"/>
<line x1="35.61" y1="153.9" x2="35.61" y2="155.7" class="tkx"/>
<line x1="44.52" y1="153.9" x2="44.52" y2="155.7" class="tkx"/>
<line x1="53.44" y1="153.9" x2="53.44" y2="155.7" class="tkx"/>
<line x1="62.35" y1="153.9" x2="62.35" y2="155.7" class="tkx"/>
<line x1="71.26" y1="153.9" x2="71.26" y2="155.7" class="tkx"/>
<line x1="80.17" y1="153.9" x2="80.17" y2="155.7" class="tkx"/>
<line x1="89.09" y1="153.9" x2="89.09" y2="155.7" class="tkx"/>
<line x1="98" y1="153.9" x2="98" y2="155.7" class="tkx"/>
<line x1="106.91" y1="153.9" x2="106.91" y2="155.7" class="tkx"/>
<line x1="115.83" y1="153.9" x2="115.83" y2="155.7" class="tkx"/>
<line x1="124.74" y1="153.9" x2="124.74" y2="155.7" class="tkx"/>
<line x1="133.65" y1="153.9" x2="133.65" y2="155.7" class="tkx"/>
<line x1="142.56" y1="153.9" x2="142.56" y2="155.7" class="tkx"/>
<line x1="151.47" y1="153.9" x2="151.47" y2="155.7" class="tkx"/>
<line x1="160.39" y1="153.9" x2="160.39" y2="155.7" class="tkx"/>
<line x1="169.3" y1="153.9" x2="169.3" y2="155.7" class="tkx"/>
<line x1="178.21" y1="153.9" x2="178.21" y2="155.7" class="tkx"/>
<line x1="187.12" y1="153.9" x2="187.12" y2="155.7" class="tkx"/>
<line x1="196.04" y1="153.9" x2="196.04" y2="155.7" class="tkx"/>
<line x1="204.95" y1="153.9" x2="204.95" y2="155.7" class="tkx"/>
<line x1="213.86" y1="153.9" x2="213.86" y2="155.7" class="tkx"/>
<line x1="222.77" y1="153.9" x2="222.77" y2="155.7" class="tkx"/>
<line x1="231.69" y1="153.9" x2="231.69" y2="155.7" class="tkx"/>
<line x1="240.6" y1="153.9" x2="240.6" y2="155.7" class="tkx"/>
<text x="31.16" y="162.6" class="xl">00</text>
<text x="40.07" y="162.6" class="xl">01</text>
<text x="48.98" y="162.6" class="xl">02</text>
<text x="57.89" y="162.6" class="xl">03</text>
<text x="66.81" y="162.6" class="xl">04</text>
<text x="75.72" y="162.6" class="xl">05</text>
<text x="84.63" y="162.6" class="xl">06</text>
<text x="93.54" y="162.6" class="xl">07</text>
<text x="102.46" y="162.6" class="xl">08</text>
<text x="111.37" y="162.6" class="xl">09</text>
<text x="120.28" y="162.6" class="xl">10</text>
<text x="129.19" y="162.6" class="xl">11</text>
<text x="138.11" y="162.6" class="xl">12</text>
<text x="147.02" y="162.6" class="xl">13</text>
<text x="155.93" y="162.6" class="xl">14</text>
<text x="164.84" y="162.6" class="xl">15</text>
<text x="173.76" y="162.6" class="xl">16</text>
<text x="182.67" y="162.6" class="xl">17</text>
<text x="191.58" y="162.6" class="xl">18</text>
<text x="200.49" y="162.6" class="xl">19</text>
<text x="209.41" y="162.6" class="xl">20</text>
<text x="218.32" y="162.6" class="xl">21</text>
<text x="227.23" y="162.6" class="xl">22</text>
<text x="236.14" y="162.6" class="xl">23</text>
<polyline fill="none" stroke="#4b1082" stroke-width="1.3" stroke-linejoin="round" points="31.16,133.55 40.07,142.16 48.98,117.65 57.89,92.84 66.81,84.23 75.72,82.66 84.63,77.18 93.54,95.97 102.46,101.06 111.37,88.45 120.28,79.69 129.19,95.97 138.11,115.54 147.02,113.19 155.93,114.76 164.84,120.71 173.76,116.32 182.67,108.96 191.58,87.36 200.49,80.55 209.41,98.32 218.32,65.44 227.23,53.69 236.14,47.82"/>
<g fill="#fff" stroke="#8a5fc0" stroke-width="0.5"><circle cx="31.16" cy="133.55" r="0.95"/><circle cx="40.07" cy="142.16" r="0.95"/><circle cx="48.98" cy="117.65" r="0.95"/><circle cx="57.89" cy="92.84" r="0.95"/><circle cx="66.81" cy="84.23" r="0.95"/><circle cx="75.72" cy="82.66" r="0.95"/><circle cx="84.63" cy="77.18" r="0.95"/><circle cx="93.54" cy="95.97" r="0.95"/><circle cx="102.46" cy="101.06" r="0.95"/><circle cx="111.37" cy="88.45" r="0.95"/><circle cx="120.28" cy="79.69" r="0.95"/><circle cx="129.19" cy="95.97" r="0.95"/><circle cx="138.11" cy="115.54" r="0.95"/><circle cx="147.02" cy="113.19" r="0.95"/><circle cx="155.93" cy="114.76" r="0.95"/><circle cx="164.84" cy="120.71" r="0.95"/><circle cx="173.76" cy="116.32" r="0.95"/><circle cx="182.67" cy="108.96" r="0.95"/><circle cx="191.58" cy="87.36" r="0.95"/><circle cx="200.49" cy="80.55" r="0.95"/><circle cx="209.41" cy="98.32" r="0.95"/><circle cx="218.32" cy="65.44" r="0.95"/><circle cx="227.23" cy="53.69" r="0.95"/><circle cx="236.14" cy="47.82" r="0.95"/></g>
</svg>
<div class="hd">NO2</div>
</div>
<div class="panel c1 r1" style="left:275.3px;top:210.4px;">
<div class="bd"></div>
<svg class="chart" width="267.4" height="182.6" viewBox="0 0 267.4 182.6">
<g class="legend">
<rect x="65.6" y="18" width="11.7" height="6.4" rx="1.6" fill="#13965f"/>
<text x="80.3" y="23.1" class="lg">上期监测值</text>
<rect x="113" y="18" width="11.7" height="6.4" rx="1.6" fill="#fb9a38"/>
<text x="126.8" y="23.1" class="lg">本期监测值</text>
<line x1="158.8" y1="21.2" x2="171.3" y2="21.2" stroke="#6a3aa6" stroke-width="0.7"/>
<circle cx="165" cy="21.2" r="2.4" fill="#fff" stroke="#7a4db5" stroke-width="0.6"/>
<text x="174.2" y="23.1" class="lg">同比增长率</text>
</g>
<g stroke="#666" stroke-width="0.7" fill="none" stroke-linecap="round" stroke-linejoin="round"><path d="M260.7 19 v5.2 M258.1 21.6 l2.6 2.6 l2.6 -2.6 M257.5 26.4 h6.4"/></g>
<line x1="24.5" y1="153.9" x2="26.7" y2="153.9" class="tk"/>
<text x="23.3" y="155.8" class="ll">0</text>
<line x1="26.7" y1="126.5" x2="240.6" y2="126.5" class="gl"/>
<line x1="24.5" y1="126.5" x2="26.7" y2="126.5" class="tk"/>
<text x="23.3" y="128.4" class="ll">10</text>
<line x1="26.7" y1="99.1" x2="240.6" y2="99.1" class="gl"/>
<line x1="24.5" y1="99.1" x2="26.7" y2="99.1" class="tk"/>
<text x="23.3" y="101" class="ll">20</text>
<line x1="26.7" y1="71.7" x2="240.6" y2="71.7" class="gl"/>
<line x1="24.5" y1="71.7" x2="26.7" y2="71.7" class="tk"/>
<text x="23.3" y="73.6" class="ll">30</text>
<line x1="26.7" y1="44.3" x2="240.6" y2="44.3" class="gl"/>
<line x1="24.5" y1="44.3" x2="26.7" y2="44.3" class="tk"/>
<text x="23.3" y="46.2" class="ll">40</text>
<line x1="240.8" y1="153.9" x2="243.2" y2="153.9" class="tkr"/>
<text x="244.9" y="155.8" class="rl">-50</text>
<line x1="26.7" y1="138.24" x2="240.6" y2="138.24" class="gl"/>
<line x1="240.8" y1="138.24" x2="243.2" y2="138.24" class="tkr"/>
<text x="244.9" y="140.14" class="rl">-40</text>
<line x1="26.7" y1="122.59" x2="240.6" y2="122.59" class="gl"/>
<line x1="240.8" y1="122.59" x2="243.2" y2="122.59" class="tkr"/>
<text x="244.9" y="124.49" class="rl">-30</text>
<line x1="26.7" y1="106.93" x2="240.6" y2="106.93" class="gl"/>
<line x1="240.8" y1="106.93" x2="243.2" y2="106.93" class="tkr"/>
<text x="244.9" y="108.83" class="rl">-20</text>
<line x1="26.7" y1="91.27" x2="240.6" y2="91.27" class="gl"/>
<line x1="240.8" y1="91.27" x2="243.2" y2="91.27" class="tkr"/>
<text x="244.9" y="93.17" class="rl">-10</text>
<line x1="26.7" y1="75.61" x2="240.6" y2="75.61" class="gl"/>
<line x1="240.8" y1="75.61" x2="243.2" y2="75.61" class="tkr"/>
<text x="244.9" y="77.51" class="rl">0</text>
<line x1="26.7" y1="59.96" x2="240.6" y2="59.96" class="gl"/>
<line x1="240.8" y1="59.96" x2="243.2" y2="59.96" class="tkr"/>
<text x="244.9" y="61.86" class="rl">10</text>
<line x1="26.7" y1="44.3" x2="240.6" y2="44.3" class="gl"/>
<line x1="240.8" y1="44.3" x2="243.2" y2="44.3" class="tkr"/>
<text x="244.9" y="46.2" class="rl">20</text>
<line x1="240.8" y1="44.3" x2="240.8" y2="153.9" class="axr"/>
<line x1="26.6" y1="44.3" x2="26.6" y2="153.9" class="axl"/>
<g fill="#17976a"><rect x="27.7" y="58" width="3" height="95.9"/><rect x="36.61" y="63.48" width="3" height="90.42"/><rect x="45.52" y="74.44" width="3" height="79.46"/><rect x="54.44" y="77.18" width="3" height="76.72"/><rect x="63.35" y="85.4" width="3" height="68.5"/><rect x="72.26" y="99.1" width="3" height="54.8"/><rect x="81.17" y="101.84" width="3" height="52.06"/><rect x="90.09" y="96.36" width="3" height="57.54"/><rect x="99" y="85.4" width="3" height="68.5"/><rect x="107.91" y="88.14" width="3" height="65.76"/><rect x="116.83" y="82.66" width="3" height="71.24"/><rect x="125.74" y="88.14" width="3" height="65.76"/><rect x="134.65" y="96.36" width="3" height="57.54"/><rect x="143.56" y="104.58" width="3" height="49.32"/><rect x="152.47" y="99.1" width="3" height="54.8"/><rect x="161.39" y="88.14" width="3" height="65.76"/><rect x="170.3" y="93.62" width="3" height="60.28"/><rect x="179.21" y="107.32" width="3" height="46.58"/><rect x="188.12" y="93.62" width="3" height="60.28"/><rect x="197.04" y="74.44" width="3" height="79.46"/><rect x="205.95" y="71.7" width="3" height="82.2"/><rect x="214.86" y="71.7" width="3" height="82.2"/><rect x="223.77" y="77.18" width="3" height="76.72"/><rect x="232.69" y="79.92" width="3" height="73.98"/></g>
<g fill="#f29d42"><rect x="31.9" y="85.4" width="2.9" height="68.5"/><rect x="40.81" y="90.88" width="2.9" height="63.02"/><rect x="49.73" y="93.62" width="2.9" height="60.28"/><rect x="58.64" y="96.36" width="2.9" height="57.54"/><rect x="67.55" y="96.36" width="2.9" height="57.54"/><rect x="76.46" y="96.36" width="2.9" height="57.54"/><rect x="85.38" y="96.36" width="2.9" height="57.54"/><rect x="94.29" y="96.36" width="2.9" height="57.54"/><rect x="103.2" y="93.62" width="2.9" height="60.28"/><rect x="112.11" y="96.36" width="2.9" height="57.54"/><rect x="121.03" y="99.1" width="2.9" height="54.8"/><rect x="129.94" y="101.84" width="2.9" height="52.06"/><rect x="138.85" y="112.8" width="2.9" height="41.1"/><rect x="147.76" y="114.17" width="2.9" height="39.73"/><rect x="156.67" y="115.54" width="2.9" height="38.36"/><rect x="165.59" y="115.54" width="2.9" height="38.36"/><rect x="174.5" y="110.06" width="2.9" height="43.84"/><rect x="183.41" y="99.1" width="2.9" height="54.8"/><rect x="192.32" y="93.62" width="2.9" height="60.28"/><rect x="201.24" y="85.4" width="2.9" height="68.5"/><rect x="210.15" y="85.4" width="2.9" height="68.5"/><rect x="219.06" y="71.7" width="2.9" height="82.2"/><rect x="227.97" y="74.44" width="2.9" height="79.46"/><rect x="236.89" y="85.4" width="2.9" height="68.5"/></g>
<line x1="26.7" y1="153.9" x2="240.6" y2="153.9" class="ax"/>
<line x1="26.7" y1="153.9" x2="26.7" y2="155.7" class="tkx"/>
<line x1="35.61" y1="153.9" x2="35.61" y2="155.7" class="tkx"/>
<line x1="44.52" y1="153.9" x2="44.52" y2="155.7" class="tkx"/>
<line x1="53.44" y1="153.9" x2="53.44" y2="155.7" class="tkx"/>
<line x1="62.35" y1="153.9" x2="62.35" y2="155.7" class="tkx"/>
<line x1="71.26" y1="153.9" x2="71.26" y2="155.7" class="tkx"/>
<line x1="80.17" y1="153.9" x2="80.17" y2="155.7" class="tkx"/>
<line x1="89.09" y1="153.9" x2="89.09" y2="155.7" class="tkx"/>
<line x1="98" y1="153.9" x2="98" y2="155.7" class="tkx"/>
<line x1="106.91" y1="153.9" x2="106.91" y2="155.7" class="tkx"/>
<line x1="115.83" y1="153.9" x2="115.83" y2="155.7" class="tkx"/>
<line x1="124.74" y1="153.9" x2="124.74" y2="155.7" class="tkx"/>
<line x1="133.65" y1="153.9" x2="133.65" y2="155.7" class="tkx"/>
<line x1="142.56" y1="153.9" x2="142.56" y2="155.7" class="tkx"/>
<line x1="151.47" y1="153.9" x2="151.47" y2="155.7" class="tkx"/>
<line x1="160.39" y1="153.9" x2="160.39" y2="155.7" class="tkx"/>
<line x1="169.3" y1="153.9" x2="169.3" y2="155.7" class="tkx"/>
<line x1="178.21" y1="153.9" x2="178.21" y2="155.7" class="tkx"/>
<line x1="187.12" y1="153.9" x2="187.12" y2="155.7" class="tkx"/>
<line x1="196.04" y1="153.9" x2="196.04" y2="155.7" class="tkx"/>
<line x1="204.95" y1="153.9" x2="204.95" y2="155.7" class="tkx"/>
<line x1="213.86" y1="153.9" x2="213.86" y2="155.7" class="tkx"/>
<line x1="222.77" y1="153.9" x2="222.77" y2="155.7" class="tkx"/>
<line x1="231.69" y1="153.9" x2="231.69" y2="155.7" class="tkx"/>
<line x1="240.6" y1="153.9" x2="240.6" y2="155.7" class="tkx"/>
<text x="31.16" y="162.6" class="xl">00</text>
<text x="40.07" y="162.6" class="xl">01</text>
<text x="48.98" y="162.6" class="xl">02</text>
<text x="57.89" y="162.6" class="xl">03</text>
<text x="66.81" y="162.6" class="xl">04</text>
<text x="75.72" y="162.6" class="xl">05</text>
<text x="84.63" y="162.6" class="xl">06</text>
<text x="93.54" y="162.6" class="xl">07</text>
<text x="102.46" y="162.6" class="xl">08</text>
<text x="111.37" y="162.6" class="xl">09</text>
<text x="120.28" y="162.6" class="xl">10</text>
<text x="129.19" y="162.6" class="xl">11</text>
<text x="138.11" y="162.6" class="xl">12</text>
<text x="147.02" y="162.6" class="xl">13</text>
<text x="155.93" y="162.6" class="xl">14</text>
<text x="164.84" y="162.6" class="xl">15</text>
<text x="173.76" y="162.6" class="xl">16</text>
<text x="182.67" y="162.6" class="xl">17</text>
<text x="191.58" y="162.6" class="xl">18</text>
<text x="200.49" y="162.6" class="xl">19</text>
<text x="209.41" y="162.6" class="xl">20</text>
<text x="218.32" y="162.6" class="xl">21</text>
<text x="227.23" y="162.6" class="xl">22</text>
<text x="236.14" y="162.6" class="xl">23</text>
<polyline fill="none" stroke="#4b1082" stroke-width="1.3" stroke-linejoin="round" points="31.16,120.86 40.07,120.24 48.98,113.82 57.89,112.72 66.81,99.1 75.72,69.98 84.63,58.7 93.54,77.18 102.46,97.22 111.37,96.59 120.28,108.81 129.19,106.93 138.11,119.92 147.02,110.22 155.93,126.34 164.84,138.71 173.76,114.44 182.67,51.82 191.58,77.18 200.49,96.59 209.41,98.79 218.32,78.75 227.23,73.27 236.14,85.95"/>
<g fill="#fff" stroke="#8a5fc0" stroke-width="0.5"><circle cx="31.16" cy="120.86" r="0.95"/><circle cx="40.07" cy="120.24" r="0.95"/><circle cx="48.98" cy="113.82" r="0.95"/><circle cx="57.89" cy="112.72" r="0.95"/><circle cx="66.81" cy="99.1" r="0.95"/><circle cx="75.72" cy="69.98" r="0.95"/><circle cx="84.63" cy="58.7" r="0.95"/><circle cx="93.54" cy="77.18" r="0.95"/><circle cx="102.46" cy="97.22" r="0.95"/><circle cx="111.37" cy="96.59" r="0.95"/><circle cx="120.28" cy="108.81" r="0.95"/><circle cx="129.19" cy="106.93" r="0.95"/><circle cx="138.11" cy="119.92" r="0.95"/><circle cx="147.02" cy="110.22" r="0.95"/><circle cx="155.93" cy="126.34" r="0.95"/><circle cx="164.84" cy="138.71" r="0.95"/><circle cx="173.76" cy="114.44" r="0.95"/><circle cx="182.67" cy="51.82" r="0.95"/><circle cx="191.58" cy="77.18" r="0.95"/><circle cx="200.49" cy="96.59" r="0.95"/><circle cx="209.41" cy="98.79" r="0.95"/><circle cx="218.32" cy="78.75" r="0.95"/><circle cx="227.23" cy="73.27" r="0.95"/><circle cx="236.14" cy="85.95" r="0.95"/></g>
</svg>
<div class="hd">PM2.5</div>
</div>
<div class="panel c2 r1" style="left:547.1px;top:210.4px;">
<div class="bd"></div>
<svg class="chart" width="267.4" height="182.6" viewBox="0 0 267.4 182.6">
<g class="legend">
<rect x="65.6" y="18" width="11.7" height="6.4" rx="1.6" fill="#13965f"/>
<text x="80.3" y="23.1" class="lg">上期监测值</text>
<rect x="113" y="18" width="11.7" height="6.4" rx="1.6" fill="#fb9a38"/>
<text x="126.8" y="23.1" class="lg">本期监测值</text>
<line x1="158.8" y1="21.2" x2="171.3" y2="21.2" stroke="#6a3aa6" stroke-width="0.7"/>
<circle cx="165" cy="21.2" r="2.4" fill="#fff" stroke="#7a4db5" stroke-width="0.6"/>
<text x="174.2" y="23.1" class="lg">同比增长率</text>
</g>
<g stroke="#666" stroke-width="0.7" fill="none" stroke-linecap="round" stroke-linejoin="round"><path d="M260.7 19 v5.2 M258.1 21.6 l2.6 2.6 l2.6 -2.6 M257.5 26.4 h6.4"/></g>
<line x1="24.5" y1="153.9" x2="26.7" y2="153.9" class="tk"/>
<text x="23.3" y="155.8" class="ll">0</text>
<line x1="26.7" y1="138.24" x2="240.6" y2="138.24" class="gl"/>
<line x1="24.5" y1="138.24" x2="26.7" y2="138.24" class="tk"/>
<text x="23.3" y="140.14" class="ll">10</text>
<line x1="26.7" y1="122.59" x2="240.6" y2="122.59" class="gl"/>
<line x1="24.5" y1="122.59" x2="26.7" y2="122.59" class="tk"/>
<text x="23.3" y="124.49" class="ll">20</text>
<line x1="26.7" y1="106.93" x2="240.6" y2="106.93" class="gl"/>
<line x1="24.5" y1="106.93" x2="26.7" y2="106.93" class="tk"/>
<text x="23.3" y="108.83" class="ll">30</text>
<line x1="26.7" y1="91.27" x2="240.6" y2="91.27" class="gl"/>
<line x1="24.5" y1="91.27" x2="26.7" y2="91.27" class="tk"/>
<text x="23.3" y="93.17" class="ll">40</text>
<line x1="26.7" y1="75.61" x2="240.6" y2="75.61" class="gl"/>
<line x1="24.5" y1="75.61" x2="26.7" y2="75.61" class="tk"/>
<text x="23.3" y="77.51" class="ll">50</text>
<line x1="26.7" y1="59.96" x2="240.6" y2="59.96" class="gl"/>
<line x1="24.5" y1="59.96" x2="26.7" y2="59.96" class="tk"/>
<text x="23.3" y="61.86" class="ll">60</text>
<line x1="26.7" y1="44.3" x2="240.6" y2="44.3" class="gl"/>
<line x1="24.5" y1="44.3" x2="26.7" y2="44.3" class="tk"/>
<text x="23.3" y="46.2" class="ll">70</text>
<line x1="240.8" y1="153.9" x2="243.2" y2="153.9" class="tkr"/>
<text x="244.9" y="155.8" class="rl">-60</text>
<line x1="26.7" y1="131.98" x2="240.6" y2="131.98" class="gl"/>
<line x1="240.8" y1="131.98" x2="243.2" y2="131.98" class="tkr"/>
<text x="244.9" y="133.88" class="rl">-40</text>
<line x1="26.7" y1="110.06" x2="240.6" y2="110.06" class="gl"/>
<line x1="240.8" y1="110.06" x2="243.2" y2="110.06" class="tkr"/>
<text x="244.9" y="111.96" class="rl">-20</text>
<line x1="26.7" y1="88.14" x2="240.6" y2="88.14" class="gl"/>
<line x1="240.8" y1="88.14" x2="243.2" y2="88.14" class="tkr"/>
<text x="244.9" y="90.04" class="rl">0</text>
<line x1="26.7" y1="66.22" x2="240.6" y2="66.22" class="gl"/>
<line x1="240.8" y1="66.22" x2="243.2" y2="66.22" class="tkr"/>
<text x="244.9" y="68.12" class="rl">20</text>
<line x1="26.7" y1="44.3" x2="240.6" y2="44.3" class="gl"/>
<line x1="240.8" y1="44.3" x2="243.2" y2="44.3" class="tkr"/>
<text x="244.9" y="46.2" class="rl">40</text>
<line x1="240.8" y1="44.3" x2="240.8" y2="153.9" class="axr"/>
<line x1="26.6" y1="44.3" x2="26.6" y2="153.9" class="axl"/>
<g fill="#17976a"><rect x="27.7" y="55.26" width="3" height="98.64"/><rect x="36.61" y="66.22" width="3" height="87.68"/><rect x="45.52" y="88.14" width="3" height="65.76"/><rect x="54.44" y="97.53" width="3" height="56.37"/><rect x="63.35" y="105.36" width="3" height="48.54"/><rect x="72.26" y="111.63" width="3" height="42.27"/><rect x="81.17" y="116.32" width="3" height="37.58"/><rect x="90.09" y="113.19" width="3" height="40.71"/><rect x="99" y="103.8" width="3" height="50.1"/><rect x="107.91" y="105.36" width="3" height="48.54"/><rect x="116.83" y="103.8" width="3" height="50.1"/><rect x="125.74" y="103.8" width="3" height="50.1"/><rect x="134.65" y="110.06" width="3" height="43.84"/><rect x="143.56" y="117.89" width="3" height="36.01"/><rect x="152.47" y="110.06" width="3" height="43.84"/><rect x="161.39" y="103.8" width="3" height="50.1"/><rect x="170.3" y="106.93" width="3" height="46.97"/><rect x="179.21" y="110.06" width="3" height="43.84"/><rect x="188.12" y="110.06" width="3" height="43.84"/><rect x="197.04" y="92.84" width="3" height="61.06"/><rect x="205.95" y="85.01" width="3" height="68.89"/><rect x="214.86" y="89.71" width="3" height="64.19"/><rect x="223.77" y="89.71" width="3" height="64.19"/><rect x="232.69" y="95.97" width="3" height="57.93"/></g>
<g fill="#f29d42"><rect x="31.9" y="99.1" width="2.9" height="54.8"/><rect x="40.81" y="100.67" width="2.9" height="53.23"/><rect x="49.73" y="106.93" width="2.9" height="46.97"/><rect x="58.64" y="108.49" width="2.9" height="45.41"/><rect x="67.55" y="105.36" width="2.9" height="48.54"/><rect x="76.46" y="106.93" width="2.9" height="46.97"/><rect x="85.38" y="105.36" width="2.9" height="48.54"/><rect x="94.29" y="106.93" width="2.9" height="46.97"/><rect x="103.2" y="108.49" width="2.9" height="45.41"/><rect x="112.11" y="111.63" width="2.9" height="42.27"/><rect x="121.03" y="105.36" width="2.9" height="48.54"/><rect x="129.94" y="97.53" width="2.9" height="56.37"/><rect x="138.85" y="103.8" width="2.9" height="50.1"/><rect x="147.76" y="110.06" width="2.9" height="43.84"/><rect x="156.67" y="110.06" width="2.9" height="43.84"/><rect x="165.59" y="108.49" width="2.9" height="45.41"/><rect x="174.5" y="110.06" width="2.9" height="43.84"/><rect x="183.41" y="105.36" width="2.9" height="48.54"/><rect x="192.32" y="95.97" width="2.9" height="57.93"/><rect x="201.24" y="81.88" width="2.9" height="72.02"/><rect x="210.15" y="83.44" width="2.9" height="70.46"/><rect x="219.06" y="80.31" width="2.9" height="73.59"/><rect x="227.97" y="72.48" width="2.9" height="81.42"/><rect x="236.89" y="78.75" width="2.9" height="75.15"/></g>
<line x1="26.7" y1="153.9" x2="240.6" y2="153.9" class="ax"/>
<line x1="26.7" y1="153.9" x2="26.7" y2="155.7" class="tkx"/>
<line x1="35.61" y1="153.9" x2="35.61" y2="155.7" class="tkx"/>
<line x1="44.52" y1="153.9" x2="44.52" y2="155.7" class="tkx"/>
<line x1="53.44" y1="153.9" x2="53.44" y2="155.7" class="tkx"/>
<line x1="62.35" y1="153.9" x2="62.35" y2="155.7" class="tkx"/>
<line x1="71.26" y1="153.9" x2="71.26" y2="155.7" class="tkx"/>
<line x1="80.17" y1="153.9" x2="80.17" y2="155.7" class="tkx"/>
<line x1="89.09" y1="153.9" x2="89.09" y2="155.7" class="tkx"/>
<line x1="98" y1="153.9" x2="98" y2="155.7" class="tkx"/>
<line x1="106.91" y1="153.9" x2="106.91" y2="155.7" class="tkx"/>
<line x1="115.83" y1="153.9" x2="115.83" y2="155.7" class="tkx"/>
<line x1="124.74" y1="153.9" x2="124.74" y2="155.7" class="tkx"/>
<line x1="133.65" y1="153.9" x2="133.65" y2="155.7" class="tkx"/>
<line x1="142.56" y1="153.9" x2="142.56" y2="155.7" class="tkx"/>
<line x1="151.47" y1="153.9" x2="151.47" y2="155.7" class="tkx"/>
<line x1="160.39" y1="153.9" x2="160.39" y2="155.7" class="tkx"/>
<line x1="169.3" y1="153.9" x2="169.3" y2="155.7" class="tkx"/>
<line x1="178.21" y1="153.9" x2="178.21" y2="155.7" class="tkx"/>
<line x1="187.12" y1="153.9" x2="187.12" y2="155.7" class="tkx"/>
<line x1="196.04" y1="153.9" x2="196.04" y2="155.7" class="tkx"/>
<line x1="204.95" y1="153.9" x2="204.95" y2="155.7" class="tkx"/>
<line x1="213.86" y1="153.9" x2="213.86" y2="155.7" class="tkx"/>
<line x1="222.77" y1="153.9" x2="222.77" y2="155.7" class="tkx"/>
<line x1="231.69" y1="153.9" x2="231.69" y2="155.7" class="tkx"/>
<line x1="240.6" y1="153.9" x2="240.6" y2="155.7" class="tkx"/>
<text x="31.16" y="162.6" class="xl">00</text>
<text x="40.07" y="162.6" class="xl">01</text>
<text x="48.98" y="162.6" class="xl">02</text>
<text x="57.89" y="162.6" class="xl">03</text>
<text x="66.81" y="162.6" class="xl">04</text>
<text x="75.72" y="162.6" class="xl">05</text>
<text x="84.63" y="162.6" class="xl">06</text>
<text x="93.54" y="162.6" class="xl">07</text>
<text x="102.46" y="162.6" class="xl">08</text>
<text x="111.37" y="162.6" class="xl">09</text>
<text x="120.28" y="162.6" class="xl">10</text>
<text x="129.19" y="162.6" class="xl">11</text>
<text x="138.11" y="162.6" class="xl">12</text>
<text x="147.02" y="162.6" class="xl">13</text>
<text x="155.93" y="162.6" class="xl">14</text>
<text x="164.84" y="162.6" class="xl">15</text>
<text x="173.76" y="162.6" class="xl">16</text>
<text x="182.67" y="162.6" class="xl">17</text>
<text x="191.58" y="162.6" class="xl">18</text>
<text x="200.49" y="162.6" class="xl">19</text>
<text x="209.41" y="162.6" class="xl">20</text>
<text x="218.32" y="162.6" class="xl">21</text>
<text x="227.23" y="162.6" class="xl">22</text>
<text x="236.14" y="162.6" class="xl">23</text>
<polyline fill="none" stroke="#4b1082" stroke-width="1.3" stroke-linejoin="round" points="31.16,136.85 40.07,131.2 48.98,119.45 57.89,109.45 66.81,88.14 75.72,75.96 84.63,56.17 93.54,71.28 102.46,98.42 111.37,102.28 120.28,91.56 129.19,74.44 138.11,72.48 147.02,64.31 155.93,88.14 164.84,98.42 173.76,95.45 182.67,76.4 191.58,52.91 200.49,68.47 209.41,85.65 218.32,72.1 227.23,58.74 236.14,55.56"/>
<g fill="#fff" stroke="#8a5fc0" stroke-width="0.5"><circle cx="31.16" cy="136.85" r="0.95"/><circle cx="40.07" cy="131.2" r="0.95"/><circle cx="48.98" cy="119.45" r="0.95"/><circle cx="57.89" cy="109.45" r="0.95"/><circle cx="66.81" cy="88.14" r="0.95"/><circle cx="75.72" cy="75.96" r="0.95"/><circle cx="84.63" cy="56.17" r="0.95"/><circle cx="93.54" cy="71.28" r="0.95"/><circle cx="102.46" cy="98.42" r="0.95"/><circle cx="111.37" cy="102.28" r="0.95"/><circle cx="120.28" cy="91.56" r="0.95"/><circle cx="129.19" cy="74.44" r="0.95"/><circle cx="138.11" cy="72.48" r="0.95"/><circle cx="147.02" cy="64.31" r="0.95"/><circle cx="155.93" cy="88.14" r="0.95"/><circle cx="164.84" cy="98.42" r="0.95"/><circle cx="173.76" cy="95.45" r="0.95"/><circle cx="182.67" cy="76.4" r="0.95"/><circle cx="191.58" cy="52.91" r="0.95"/><circle cx="200.49" cy="68.47" r="0.95"/><circle cx="209.41" cy="85.65" r="0.95"/><circle cx="218.32" cy="72.1" r="0.95"/><circle cx="227.23" cy="58.74" r="0.95"/><circle cx="236.14" cy="55.56" r="0.95"/></g>
</svg>
<div class="hd">PM10</div>
</div>
<div class="w1"><i></i></div><div class="w2"><i></i></div>
<div class="banner"><div class="tt"><span class="q" style="left:71.7px;">《</span><span class="m" style="left:116.2px;">开关量实时数据解析：数字化时代的智能监控</span><span class="q" style="left:719.3px;">》</span></div></div>
<div class="foot"></div>
</body>
</html>
